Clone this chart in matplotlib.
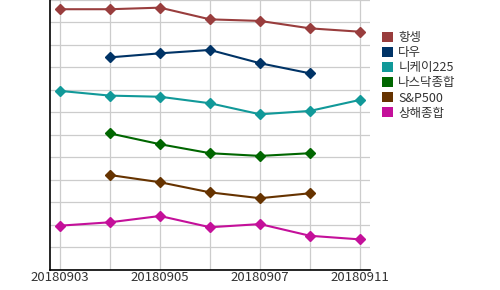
import numpy as np
import matplotlib
matplotlib.use("Agg")
import matplotlib.pyplot as plt
from matplotlib.patches import Patch

plt.rcParams['font.family'] = ['Noto Sans CJK KR', 'DejaVu Sans']

# categories (trading days)
dates = ['20180903', '20180904', '20180905', '20180906', '20180907', '20180910', '20180911']
shown = ['20180903', '20180905', '20180907', '20180911']

nan = np.nan
# relative index levels (no y scale shown)
hangseng = [11.59, 11.59, 11.66, 11.14, 11.07, 10.74, 10.59]
dow      = [nan, 9.45, 9.63, 9.78, 9.19, 8.74, nan]
nikkei   = [7.96, 7.75, 7.70, 7.41, 6.92, 7.07, 7.56]
nasdaq   = [nan, 6.07, 5.59, 5.19, 5.07, 5.19, nan]
sp500    = [nan, 4.22, 3.90, 3.45, 3.19, 3.41, nan]
shanghai = [1.97, 2.12, 2.40, 1.90, 2.04, 1.52, 1.36]

names = ['항셍', '다우', '니케이225', '나스닥종합', 'S&P500', '상해종합']
colors = ['#993d3d', '#003366', '#119999', '#006600', '#663300', '#c4109a']
series = [hangseng, dow, nikkei, nasdaq, sp500, shanghai]

fig = plt.figure(figsize=(5, 2.9), dpi=100)
ax = fig.add_axes([0.1, 0.069, 0.64, 0.931])

x = np.arange(len(dates))
for vals, c in zip(series, colors):
    ax.plot(x, vals, color=c, lw=1.5, marker='D', ms=5, zorder=3)

ax.set_xlim(-0.2, 6.2)
ax.set_ylim(0, 12)
ax.set_yticks(np.arange(0, 13))
ax.set_yticklabels([])
ax.set_xticks(x)
ax.set_xticklabels([d if d in shown else '' for d in dates], fontsize=9.5, color='#333333')
ax.tick_params(length=0, pad=1, left=False, bottom=False)
ax.grid(True, color='#cccccc', lw=0.9)
ax.set_axisbelow(True)
for s in ['top', 'right']:
    ax.spines[s].set_visible(False)
for s in ['left', 'bottom']:
    ax.spines[s].set_color('black')
    ax.spines[s].set_linewidth(1.2)

handles = [Patch(facecolor=c, edgecolor='none') for c in colors]
fig.legend(handles, names, loc='upper left', bbox_to_anchor=(0.754, 0.91),
           frameon=False, fontsize=9, handlelength=0.85, handleheight=0.85,
           handletextpad=0.45, labelspacing=0.17, borderaxespad=0, labelcolor='#333333')

fig.savefig('out.png', dpi=100)
